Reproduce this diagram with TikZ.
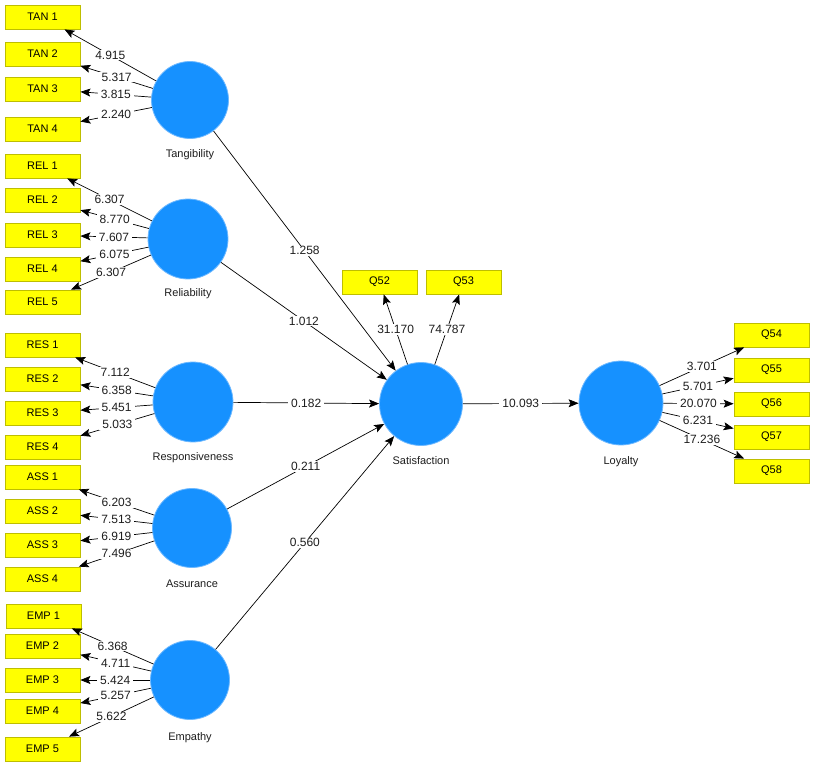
\documentclass[tikz,border=0pt]{standalone}
\usepackage{fontspec}
\setmainfont{Liberation Sans}
\usetikzlibrary{arrows.meta}
\definecolor{boxfill}{RGB}{255,255,0}
\definecolor{boxline}{RGB}{190,190,0}
\definecolor{lvfill}{RGB}{22,145,255}
\definecolor{lvline}{RGB}{110,185,255}
\definecolor{txt}{RGB}{30,30,30}
\tikzset{
  ind/.style={draw=boxline, fill=boxfill, line width=0.8pt, minimum width=75pt, minimum height=24pt, inner sep=0pt, font=\fontsize{11pt}{13pt}\selectfont, text=black},
  lv/.style={circle, draw=lvline, fill=lvfill, line width=0.8pt, minimum size=#1, inner sep=0pt},
  lvname/.style={font=\fontsize{11pt}{13pt}\selectfont, text=txt, inner sep=0pt},
  coef/.style={fill=white, inner xsep=3pt, inner ysep=1pt, font=\fontsize{12pt}{14pt}\selectfont, text=txt, midway},
  arr/.style={-{Stealth[length=10pt,width=8pt,inset=2pt]}, line width=0.7pt, black},
}
\begin{document}
\begin{tikzpicture}[x=1pt,y=-1pt]
\useasboundingbox[fill=white] (0,0) rectangle (814,766);
% indicator boxes
\node[ind] (tan1) at (42.5,17) {TAN 1};
\node[ind] (tan2) at (42.5,54) {TAN 2};
\node[ind] (tan3) at (42.5,89) {TAN 3};
\node[ind] (tan4) at (42.5,129) {TAN 4};
\node[ind] (rel1) at (42.5,166) {REL 1};
\node[ind] (rel2) at (42.5,200) {REL 2};
\node[ind] (rel3) at (42.5,235) {REL 3};
\node[ind] (rel4) at (42.5,269) {REL 4};
\node[ind] (rel5) at (42.5,302) {REL 5};
\node[ind] (res1) at (42.5,345) {RES 1};
\node[ind] (res2) at (42.5,379) {RES 2};
\node[ind] (res3) at (42.5,413) {RES 3};
\node[ind] (res4) at (42.5,447) {RES 4};
\node[ind] (ass1) at (42.5,477) {ASS 1};
\node[ind] (ass2) at (42.5,511) {ASS 2};
\node[ind] (ass3) at (42.5,545) {ASS 3};
\node[ind] (ass4) at (42.5,579) {ASS 4};
\node[ind] (emp1) at (43.5,616) {EMP 1};
\node[ind] (emp2) at (42.5,646) {EMP 2};
\node[ind] (emp3) at (42.5,680) {EMP 3};
\node[ind] (emp4) at (42.5,711) {EMP 4};
\node[ind] (emp5) at (42.5,749) {EMP 5};
\node[ind] (q52) at (379.5,282) {Q52};
\node[ind] (q53) at (463.5,282) {Q53};
\node[ind] (q54) at (771.5,335) {Q54};
\node[ind] (q55) at (771.5,370) {Q55};
\node[ind] (q56) at (771.5,404) {Q56};
\node[ind] (q57) at (771.5,437) {Q57};
\node[ind] (q58) at (771.5,471) {Q58};
% latent variables
\node[lv=77pt] (tan) at (190,100) {};
\node[lv=80pt] (rel) at (188,239) {};
\node[lv=80pt] (res) at (193,402) {};
\node[lv=79pt] (ass) at (192,528) {};
\node[lv=79pt] (emp) at (190,680) {};
\node[lv=83pt] (sat) at (421,404) {};
\node[lv=84pt] (loy) at (621,403) {};
\node[lvname] (tanl) at (190,155) {Tangibility};
\node[lvname] (rell) at (188,294) {Reliability};
\node[lvname] (resl) at (193,458) {Responsiveness};
\node[lvname] (assl) at (192,584) {Assurance};
\node[lvname] (empl) at (190,738) {Empathy};
\node[lvname] (satl) at (421,461) {Satisfaction};
\node[lvname] (loyl) at (621,462) {Loyalty};
% outer model
\draw[arr] (tan) -- node[coef]{4.915} (tan1);
\draw[arr] (tan) -- node[coef]{5.317} (tan2);
\draw[arr] (tan) -- node[coef]{3.815} (tan3);
\draw[arr] (tan) -- node[coef]{2.240} (tan4);
\draw[arr] (rel) -- node[coef]{6.307} (rel1);
\draw[arr] (rel) -- node[coef]{8.770} (rel2);
\draw[arr] (rel) -- node[coef]{7.607} (rel3);
\draw[arr] (rel) -- node[coef]{6.075} (rel4);
\draw[arr] (rel) -- node[coef]{6.307} (rel5);
\draw[arr] (res) -- node[coef]{7.112} (res1);
\draw[arr] (res) -- node[coef]{6.358} (res2);
\draw[arr] (res) -- node[coef]{5.451} (res3);
\draw[arr] (res) -- node[coef]{5.033} (res4);
\draw[arr] (ass) -- node[coef]{6.203} (ass1);
\draw[arr] (ass) -- node[coef]{7.513} (ass2);
\draw[arr] (ass) -- node[coef]{6.919} (ass3);
\draw[arr] (ass) -- node[coef]{7.496} (ass4);
\draw[arr] (emp) -- node[coef]{6.368} (emp1);
\draw[arr] (emp) -- node[coef]{4.711} (emp2);
\draw[arr] (emp) -- node[coef]{5.424} (emp3);
\draw[arr] (emp) -- node[coef]{5.257} (emp4);
\draw[arr] (emp) -- node[coef]{5.622} (emp5);
\draw[arr] (sat) -- node[coef]{31.170} (q52);
\draw[arr] (sat) -- node[coef]{74.787} (q53);
\draw[arr] (loy) -- node[coef]{3.701} (q54);
\draw[arr] (loy) -- node[coef]{5.701} (q55);
\draw[arr] (loy) -- node[coef]{20.070} (q56);
\draw[arr] (loy) -- node[coef]{6.231} (q57);
\draw[arr] (loy) -- node[coef]{17.236} (q58);
% inner model
\draw[arr] (tan) -- node[coef]{1.258} (sat);
\draw[arr] (rel) -- node[coef]{1.012} (sat);
\draw[arr] (res) -- node[coef]{0.182} (sat);
\draw[arr] (ass) -- node[coef]{0.211} (sat);
\draw[arr] (emp) -- node[coef]{0.560} (sat);
\draw[arr] (sat) -- node[coef]{10.093} (loy);
\end{tikzpicture}
\end{document}
